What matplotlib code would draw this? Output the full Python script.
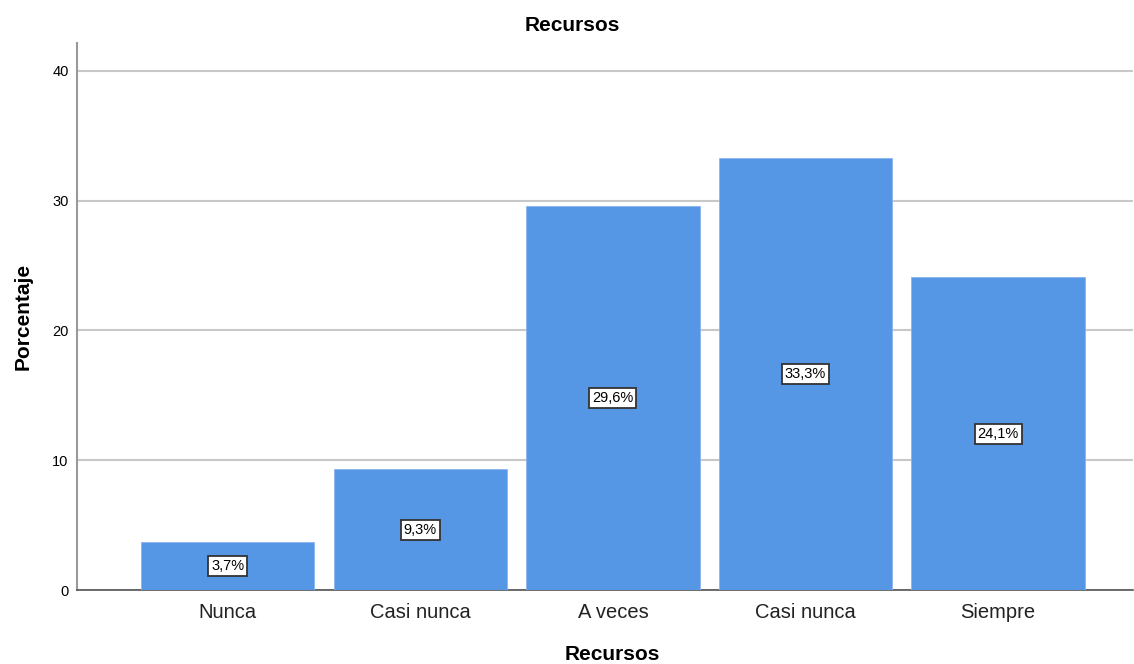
import matplotlib
matplotlib.use("Agg")
import matplotlib.pyplot as plt

plt.rcParams['font.family'] = ['Liberation Sans', 'DejaVu Sans']

categories = ["Nunca", "Casi nunca", "A veces", "Casi nunca", "Siempre"]
percentages = [3.7, 9.3, 29.6, 33.3, 24.1]
y_ticks = [0, 10, 20, 30, 40]

fig = plt.figure(figsize=(11.34, 6.64), dpi=100)
ax = fig.add_axes([0.0679, 0.1114, 0.9312, 0.8238])

positions = list(range(len(categories)))
ax.bar(positions, percentages, width=0.9, color="#5596e5",
       edgecolor="#8ab6ee", linewidth=0.6, zorder=3)

for x, v in zip(positions, percentages):
    ax.text(x, v / 2, f"{v:.1f}%".replace(".", ","), ha="center", va="center",
            fontsize=10.5, color="black", zorder=4,
            bbox=dict(boxstyle="square,pad=0.2", facecolor="white",
                      edgecolor="#333333", linewidth=1.3))

ax.set_xlim(-0.782, 4.70)
ax.set_ylim(0, 42.15)
ax.set_yticks(y_ticks)
ax.set_yticklabels([str(t) for t in y_ticks], fontsize=10.5)
ax.set_xticks(positions)
ax.set_xticklabels(categories, fontsize=14.5, color="#222222")
ax.tick_params(axis="both", length=0, pad=6)
ax.tick_params(axis="x", pad=9)

ax.yaxis.grid(True, color="#c8c8c8", linewidth=1.5, zorder=0)
ax.set_axisbelow(True)

for side in ("top", "right"):
    ax.spines[side].set_visible(False)
ax.spines["left"].set_color("#999999")
ax.spines["left"].set_linewidth(1.5)
ax.spines["bottom"].set_color("#555555")
ax.spines["bottom"].set_linewidth(1.2)

fig.text(0.505, 0.961, "Recursos", ha="center", va="center",
         fontsize=15, fontweight="bold")
fig.text(0.54, 0.0136, "Recursos", ha="center", va="center",
         fontsize=15, fontweight="bold")
fig.text(0.02, 0.523, "Porcentaje", ha="center", va="center",
         rotation=90, fontsize=15, fontweight="bold")

fig.savefig("out.png", dpi=100)
